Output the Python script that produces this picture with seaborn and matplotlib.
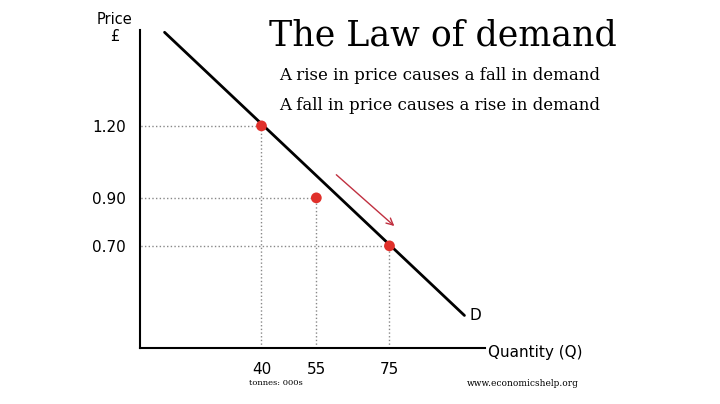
import numpy as np
import seaborn as sns
import matplotlib.pyplot as plt
import pandas as pd

# Data
quantity = [40, 55, 75]
price = [1.20, 0.90, 0.70]
price_labels = ['1.20', '0.90', '0.70']
demand_q = [13.5, 95.5]
demand_p = [1.59, 0.41]

sns.set_theme(style='white')
plt.rcParams['font.family'] = ['DejaVu Sans']
plt.rcParams['text.color'] = 'black'

fig = plt.figure(figsize=(7.2, 4.04), dpi=100)
ax = fig.add_axes([0.194, 0.139, 0.479, 0.787])

sns.lineplot(x=demand_q, y=demand_p, ax=ax, color='black', linewidth=2)
for q, p in zip(quantity, price):
    ax.plot([q, q], [0.275, p], ls=':', color='#888888', lw=1)
    ax.plot([0, q], [p, p], ls=':', color='#888888', lw=1)
sns.scatterplot(x=quantity, y=price, ax=ax, color='#e0302a', s=60, zorder=5, edgecolor='none')

ax.annotate('', xy=(76.9, 0.775), xytext=(59.9, 1.004),
            arrowprops=dict(arrowstyle='->', color='#c03040', lw=1))

ax.set_xlim(6.7, 101)
ax.set_ylim(0.275, 1.60)
ax.set_xticks(quantity)
ax.set_xticklabels([str(q) for q in quantity], fontsize=11)
ax.set_yticks(price)
ax.set_yticklabels(price_labels, fontsize=11)
ax.tick_params(length=0, pad=10, labelcolor='black')
for s in ['top', 'right']:
    ax.spines[s].set_visible(False)
for s in ['left', 'bottom']:
    ax.spines[s].set_color('black')
    ax.spines[s].set_linewidth(1.5)

ax.text(97, 0.41, 'D', fontsize=11, va='center')

fig.text(443/720, 1 - 36/404, 'The Law of demand', family='DejaVu Serif', fontsize=25, ha='center', va='center')
fig.text(440/720, 1 - 75/404, 'A rise in price causes a fall in demand', family='DejaVu Serif', fontsize=12, ha='center', va='center')
fig.text(440/720, 1 - 106/404, 'A fall in price causes a rise in demand', family='DejaVu Serif', fontsize=12, ha='center', va='center')
fig.text(115/720, 1 - 28/404, 'Price\n£', fontsize=10.5, ha='center', va='center', linespacing=1.1)
fig.text(535/720, 1 - 353/404, 'Quantity (Q)', fontsize=11, ha='center', va='center')
fig.text(276/720, 1 - 383/404, 'tonnes: 000s', family='DejaVu Serif', fontsize=6, ha='center', va='center')
fig.text(523/720, 1 - 383/404, 'www.economicshelp.org', family='DejaVu Serif', fontsize=6.5, ha='center', va='center')

fig.savefig('out.png', dpi=100)
